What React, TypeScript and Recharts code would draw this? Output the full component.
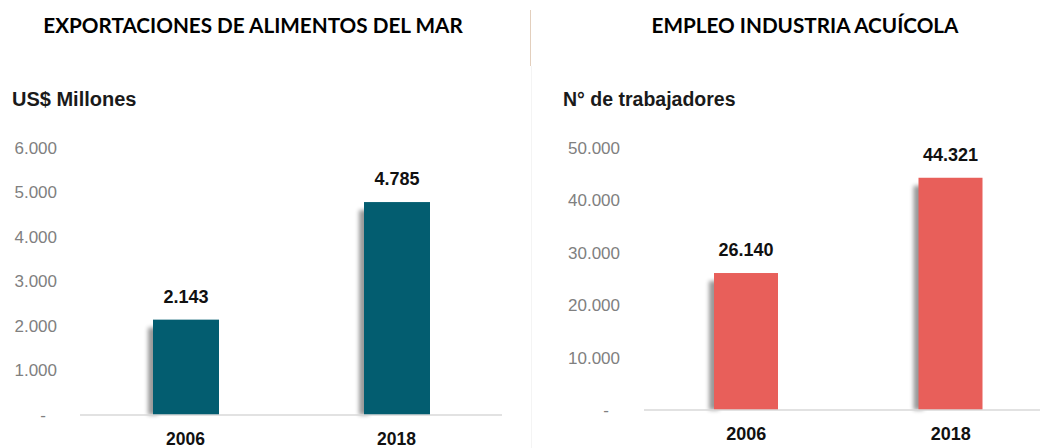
import React from 'react';
import { BarChart, Bar, XAxis, YAxis, LabelList } from 'recharts';

const years = ['2006', '2018'];
const exportValues = [2143, 4785];
const employmentValues = [26140, 44321];
const exportTicks = [0, 1000, 2000, 3000, 4000, 5000, 6000];
const employmentTicks = [0, 10000, 20000, 30000, 40000, 50000];

const exportData = years.map((year, i) => ({ year, value: exportValues[i] }));
const employmentData = years.map((year, i) => ({ year, value: employmentValues[i] }));

const fmt = (v: number) => String(v).replace(/\B(?=(\d{3})+(?!\d))/g, '.');

const ARIAL = '"Liberation Sans", Arial, sans-serif';

const YTick = (props: any) => {
  const { x, y, payload, dashShift } = props;
  const isZero = payload.value === 0;
  return (
    <text
      x={isZero ? x - dashShift : x}
      y={y}
      dy="0.35em"
      textAnchor="end"
      fill="#808080"
      fontSize={17}
      fontFamily={ARIAL}
    >
      {isZero ? '-' : fmt(payload.value)}
    </text>
  );
};

// bar with a soft shadow on its left side, like the original slide
const shadowBar = (fill: string, id: string) => (props: any) => {
  const { x, y, width, height } = props;
  return (
    <g>
      <defs>
        <filter id={id} x="-100%" y="-10%" width="300%" height="120%">
          <feGaussianBlur stdDeviation={2} />
        </filter>
      </defs>
      <rect
        x={x - 5}
        y={y + 8}
        width={10}
        height={Math.max(height - 8, 0)}
        fill="#000"
        opacity={0.4}
        filter={`url(#${id})`}
      />
      <rect x={x} y={y} width={width} height={height} fill={fill} />
    </g>
  );
};

const titleStyle: React.CSSProperties = {
  position: 'absolute',
  top: 13,
  fontFamily: 'Lato, sans-serif',
  fontWeight: 700,
  fontSize: 20.7,
  color: '#000',
  whiteSpace: 'nowrap',
};

const subStyle: React.CSSProperties = {
  position: 'absolute',
  top: 88,
  fontFamily: ARIAL,
  fontWeight: 700,
  fontSize: 20,
  color: '#1a1a1a',
  whiteSpace: 'nowrap',
};

export default function App() {
  return (
    <div
      style={{
        position: 'absolute',
        left: 0,
        top: 0,
        width: 1040,
        height: 448,
        overflow: 'hidden',
        background: '#fff',
      }}
    >
      <div style={{ ...titleStyle, left: 23, width: 460, textAlign: 'center' }}>
        EXPORTACIONES DE ALIMENTOS DEL MAR
      </div>
      <div style={{ ...titleStyle, left: 625, width: 360, textAlign: 'center' }}>
        EMPLEO INDUSTRIA ACUÍCOLA
      </div>
      <div style={{ position: 'absolute', left: 530, top: 10, width: 1, height: 56, background: '#e3cfbd' }} />
      <div style={{ position: 'absolute', left: 531, top: 66, width: 1, height: 382, background: '#f4f4f4' }} />

      <div style={{ ...subStyle, left: 12 }}>US$ Millones</div>
      <div style={{ ...subStyle, left: 563, fontSize: 19.5 }}>N° de trabajadores</div>

      <div style={{ position: 'absolute', left: 0, top: 0 }}>
        <BarChart
          width={520}
          height={470}
          data={exportData}
          margin={{ top: 148, right: 18, bottom: 20, left: 0 }}
        >
          <XAxis
            dataKey="year"
            height={35}
            axisLine={{ stroke: '#d9d9d9', strokeWidth: 1.5 }}
            tickLine={false}
            tickSize={0}
            tickMargin={18}
            tick={{ fill: '#111', fontSize: 17.5, fontWeight: 700, fontFamily: ARIAL }}
          />
          <YAxis
            width={80}
            domain={[0, 6000]}
            ticks={exportTicks}
            interval={0}
            axisLine={false}
            tickLine={false}
            tickSize={0}
            tickMargin={23}
            tick={<YTick dashShift={11} />}
          />
          <Bar
            dataKey="value"
            barSize={66}
            fill="#035d70"
            isAnimationActive={false}
            shape={shadowBar('#035d70', 'shL')}
          >
            <LabelList
              dataKey="value"
              position="top"
              offset={17}
              formatter={(v: any) => fmt(v)}
              fill="#111"
              fontSize={18}
              fontWeight={700}
              fontFamily={ARIAL}
            />
          </Bar>
        </BarChart>
      </div>

      <div style={{ position: 'absolute', left: 520, top: 0 }}>
        <BarChart
          width={540}
          height={470}
          data={employmentData}
          margin={{ top: 148, right: 7, bottom: 25, left: 0 }}
        >
          <XAxis
            dataKey="year"
            height={35}
            axisLine={{ stroke: '#d9d9d9', strokeWidth: 1.5 }}
            tickLine={false}
            tickSize={0}
            tickMargin={17}
            tick={{ fill: '#111', fontSize: 18, fontWeight: 700, fontFamily: ARIAL }}
          />
          <YAxis
            width={124}
            domain={[0, 50000]}
            ticks={employmentTicks}
            interval={0}
            axisLine={false}
            tickLine={false}
            tickSize={0}
            tickMargin={24}
            tick={<YTick dashShift={11} />}
          />
          <Bar
            dataKey="value"
            barSize={64}
            fill="#e85f5a"
            isAnimationActive={false}
            shape={shadowBar('#e85f5a', 'shR')}
          >
            <LabelList
              dataKey="value"
              position="top"
              offset={17}
              formatter={(v: any) => fmt(v)}
              fill="#111"
              fontSize={18}
              fontWeight={700}
              fontFamily={ARIAL}
            />
          </Bar>
        </BarChart>
      </div>
    </div>
  );
}
